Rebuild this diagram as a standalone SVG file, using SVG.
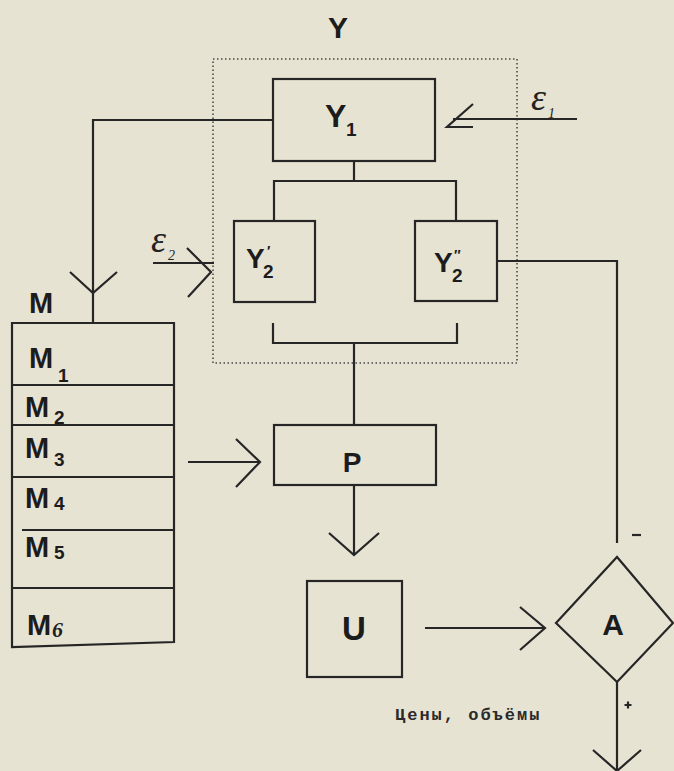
<svg xmlns="http://www.w3.org/2000/svg" width="674" height="771" viewBox="0 0 674 771">
  <style>
    .box { fill: none; stroke: #262626; stroke-width: 2.2; }
    .ln { fill: none; stroke: #262626; stroke-width: 2.2; stroke-linejoin: miter; }
    .dot { fill: none; stroke: #4a4a4a; stroke-width: 1.6; stroke-dasharray: 1.5 2.5; }
    .lbl { font-family: "Liberation Sans", Arial, sans-serif; font-weight: bold; fill: #1c1c1c; }
    .sub { font-family: "Liberation Sans", Arial, sans-serif; font-weight: bold; fill: #1c1c1c; font-size: 19px; }
    .hand { font-family: "Liberation Serif", "DejaVu Serif", serif; font-style: italic; fill: #222; }
    .mono { font-family: "Liberation Mono", "DejaVu Sans Mono", monospace; font-weight: bold; fill: #2a2a2a; font-size: 17px; letter-spacing: 2px; }
  </style>

  <!-- paper -->
  <rect x="0" y="0" width="674" height="771" fill="#e7e3d3"/>

  <!-- Y system boundary (dotted) -->
  <g id="Y">
    <rect class="dot" x="213" y="59" width="304" height="304"/>
    <text class="lbl" x="328" y="38" font-size="30">Y</text>
  </g>

  <g id="Y1">
    <rect class="box" x="273" y="79" width="162" height="82"/>
    <text class="lbl" x="325" y="127" font-size="32">Y</text>
    <text class="sub" x="346" y="136" font-size="18">1</text>
  </g>

  <g id="Y2a">
    <rect class="box" x="234" y="221" width="81" height="81"/>
    <text class="lbl" x="246" y="268" font-size="28">Y</text>
    <text class="sub" x="263" y="278">2</text>
    <text class="lbl" x="267" y="256" font-size="14" font-family="DejaVu Sans, sans-serif">′</text>
  </g>

  <g id="Y2b">
    <rect class="box" x="415" y="221" width="82" height="80"/>
    <text class="lbl" x="434" y="272" font-size="28">Y</text>
    <text class="sub" x="452" y="282">2</text>
    <text class="lbl" x="454" y="260" font-size="14" font-family="DejaVu Sans, sans-serif">″</text>
  </g>

  <g id="M">
    <text class="lbl" x="29" y="313" font-size="29">M</text>
    <path class="box" d="M12,323 H174 V642 L12,647 Z"/>
    <path class="ln" d="M12,385 H174 M12,425 H174 M12,477 H174 M22,530 H174 M12,588 H174"/>
    <text class="lbl" x="29" y="368" font-size="29">M</text>
    <text class="sub" x="58" y="382" font-size="20">1</text>
    <text class="lbl" x="25" y="417" font-size="29">M</text>
    <text class="sub" x="54" y="424" font-size="20">2</text>
    <text class="lbl" x="25" y="458" font-size="29">M</text>
    <text class="sub" x="54" y="466" font-size="20">3</text>
    <text class="lbl" x="25" y="508" font-size="29">M</text>
    <text class="sub" x="54" y="510" font-size="20">4</text>
    <text class="lbl" x="25" y="557" font-size="29">M</text>
    <text class="sub" x="54" y="559" font-size="20">5</text>
    <text class="lbl" x="27" y="635" font-size="29">M</text>
    <text class="hand" x="52" y="637" font-size="22" font-weight="bold">6</text>
  </g>

  <g id="P">
    <rect class="box" x="274" y="425" width="162" height="60"/>
    <text class="lbl" x="352" y="472" font-size="28" text-anchor="middle">P</text>
  </g>

  <g id="U">
    <rect class="box" x="307" y="581" width="95" height="96"/>
    <text class="lbl" x="354" y="640" font-size="33" text-anchor="middle">U</text>
  </g>

  <g id="A">
    <polygon class="box" points="556,623 617,557 673,623 617,682"/>
    <text class="lbl" x="613" y="635" font-size="30" text-anchor="middle">A</text>
  </g>

  <g id="labels">
    <text class="hand" x="531" y="110" font-size="38">ε</text>
    <text class="hand" x="548" y="118" font-size="14">1</text>
    <text class="hand" x="151" y="252" font-size="38">ε</text>
    <text class="hand" x="168" y="260" font-size="14">2</text>
    <text class="mono" x="395" y="720">Цены, объёмы</text>
    <path class="ln" d="M632,535 H641"/>
    <path class="ln" d="M624.5,705 H631.5 M628,701.5 V708.5" stroke-width="1.8"/>
  </g>

  <g id="connectors">
    <!-- Y1 feedback to M -->
    <path class="ln" d="M273,120 H93 V323"/>
    <polyline class="ln" points="70,272 93,293 117,272"/>
    <!-- disturbance into Y1 -->
    <path class="ln" d="M577,119 H453"/>
    <polyline class="ln" points="473,104 447,127 473,127"/>
    <!-- disturbance into Y2' -->
    <path class="ln" d="M153,263 H214"/>
    <polyline class="ln" points="187,248 211,272 188,297"/>
    <!-- Y1 splits into Y2' and Y2'' -->
    <path class="ln" d="M354,161 V181 M274,221 V181 H456 V221"/>
    <!-- Y2' and Y2'' join into P -->
    <path class="ln" d="M273,323 V343 H457 V323 M354,343 V425"/>
    <!-- M to P -->
    <path class="ln" d="M188,462 H260"/>
    <polyline class="ln" points="236,439 260,462 236,487"/>
    <!-- P to U -->
    <path class="ln" d="M354,485 V555"/>
    <polyline class="ln" points="329,533 354,555 379,533"/>
    <!-- U to A -->
    <path class="ln" d="M425,628 H545"/>
    <polyline class="ln" points="520,607 545,628 520,650"/>
    <!-- Y2'' to A (negative input) -->
    <path class="ln" d="M497,261 H617 V543"/>
    <!-- A output -->
    <path class="ln" d="M617,682 V771"/>
    <polyline class="ln" points="593,750 617,771 641,750"/>
  </g>
</svg>
